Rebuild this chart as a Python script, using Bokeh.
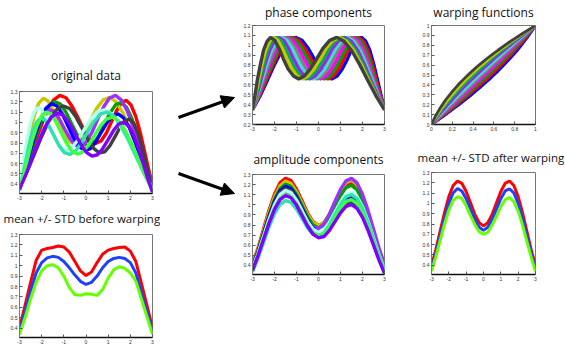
from bokeh.plotting import figure
from bokeh.layouts import row, column
from bokeh.models import (Range1d, FixedTicker, CustomJSTickFormatter,
                          Arrow, NormalHead, Spacer)
from bokeh.embed import file_html
from bokeh.resources import INLINE
import numpy as np

# ---------------- data ----------------
T_GRID = [-3.0, -2.75, -2.5, -2.25, -2.0, -1.75, -1.5, -1.25, -1.0, -0.75, -0.5, -0.25, 0.0,
          0.25, 0.5, 0.75, 1.0, 1.25, 1.5, 1.75, 2.0, 2.25, 2.5, 2.75, 3.0]

# warped time grids (one per function)
W0 = [-3, -2.89, -2.78, -2.64, -2.5, -2.34, -2.18, -1.99, -1.8, -1.59, -1.38, -1.14, -0.9, -0.64, -0.38, -0.09, 0.2, 0.51, 0.83, 1.16, 1.5, 1.86, 2.23, 2.61, 3]
W1 = [-3, -2.87, -2.72, -2.57, -2.41, -2.23, -2.05, -1.85, -1.65, -1.43, -1.21, -0.98, -0.73, -0.48, -0.21, 0.07, 0.35, 0.65, 0.95, 1.27, 1.59, 1.93, 2.28, 2.63, 3]
W2 = [-3, -2.84, -2.67, -2.5, -2.32, -2.13, -1.93, -1.72, -1.51, -1.28, -1.05, -0.82, -0.57, -0.32, -0.05, 0.22, 0.49, 0.78, 1.07, 1.37, 1.68, 2.0, 2.33, 2.66, 3]
W3 = [-3, -2.81, -2.62, -2.43, -2.22, -2.01, -1.8, -1.58, -1.36, -1.13, -0.89, -0.65, -0.4, -0.15, 0.11, 0.38, 0.64, 0.92, 1.2, 1.49, 1.78, 2.08, 2.38, 2.69, 3]
W4 = [-3, -2.79, -2.57, -2.35, -2.13, -1.9, -1.67, -1.44, -1.2, -0.97, -0.72, -0.48, -0.23, 0.02, 0.28, 0.53, 0.8, 1.06, 1.33, 1.6, 1.87, 2.15, 2.43, 2.71, 3]
W5 = [-3, -2.76, -2.52, -2.28, -2.04, -1.8, -1.55, -1.31, -1.06, -0.82, -0.57, -0.32, -0.07, 0.18, 0.43, 0.68, 0.94, 1.19, 1.45, 1.7, 1.96, 2.22, 2.48, 2.74, 3]
W6 = [-3, -2.73, -2.47, -2.21, -1.94, -1.68, -1.43, -1.17, -0.91, -0.66, -0.4, -0.15, 0.1, 0.35, 0.6, 0.84, 1.09, 1.33, 1.58, 1.82, 2.06, 2.29, 2.53, 2.77, 3]
W7 = [-3, -2.71, -2.42, -2.13, -1.85, -1.57, -1.3, -1.03, -0.76, -0.5, -0.24, 0.02, 0.27, 0.52, 0.76, 1.0, 1.24, 1.47, 1.7, 1.93, 2.15, 2.37, 2.58, 2.79, 3]
W8 = [-3, -2.68, -2.37, -2.06, -1.76, -1.47, -1.18, -0.9, -0.62, -0.35, -0.08, 0.18, 0.43, 0.68, 0.92, 1.15, 1.38, 1.61, 1.82, 2.03, 2.24, 2.44, 2.63, 2.82, 3]
W9 = [-3, -2.65, -2.32, -1.99, -1.67, -1.35, -1.05, -0.75, -0.47, -0.19, 0.08, 0.35, 0.6, 0.85, 1.08, 1.31, 1.53, 1.75, 1.95, 2.15, 2.33, 2.51, 2.68, 2.85, 3]
WARPS = [W0, W1, W2, W3, W4, W5, W6, W7, W8, W9]
WARP_COLORS = ["#404040", "#c8c800", "#00b050", "#a020f0", "#40e0d0",
               "#808080", "#ff00ff", "#00a000", "#ff0000", "#0000ff"]

# template of the phase components
PHASE_Y = [0.35, 0.49, 0.65, 0.81, 0.95, 1.04, 1.08, 1.05, 0.97, 0.86, 0.76, 0.69, 0.66,
           0.69, 0.76, 0.86, 0.97, 1.05, 1.08, 1.04, 0.95, 0.81, 0.65, 0.49, 0.35]

# amplitude components
A1 = [0.406, 0.573, 0.759, 0.945, 1.105, 1.217, 1.263, 1.239, 1.155, 1.040, 0.921, 0.832, 0.796, 0.820, 0.897, 1.006, 1.113, 1.192, 1.214, 1.169, 1.061, 0.907, 0.728, 0.550, 0.390]
A2 = [0.397, 0.559, 0.741, 0.922, 1.078, 1.188, 1.234, 1.210, 1.130, 1.019, 0.907, 0.825, 0.796, 0.827, 0.912, 1.027, 1.139, 1.220, 1.243, 1.198, 1.087, 0.930, 0.747, 0.563, 0.400]
A3 = [0.387, 0.545, 0.722, 0.899, 1.052, 1.159, 1.203, 1.180, 1.102, 0.992, 0.881, 0.800, 0.770, 0.797, 0.877, 0.986, 1.093, 1.170, 1.193, 1.149, 1.043, 0.892, 0.716, 0.540, 0.384]
A4 = [0.361, 0.508, 0.674, 0.839, 0.982, 1.082, 1.124, 1.105, 1.034, 0.938, 0.843, 0.778, 0.767, 0.813, 0.909, 1.033, 1.152, 1.237, 1.262, 1.217, 1.105, 0.945, 0.759, 0.573, 0.406]
A5 = [0.380, 0.536, 0.710, 0.884, 1.034, 1.139, 1.182, 1.159, 1.079, 0.969, 0.854, 0.767, 0.728, 0.743, 0.807, 0.902, 0.995, 1.064, 1.083, 1.043, 0.946, 0.809, 0.649, 0.490, 0.348]
A6 = [0.374, 0.527, 0.698, 0.869, 1.016, 1.119, 1.161, 1.137, 1.059, 0.950, 0.836, 0.747, 0.705, 0.715, 0.774, 0.862, 0.951, 1.014, 1.033, 0.994, 0.902, 0.771, 0.619, 0.467, 0.332]
A7 = [0.367, 0.518, 0.686, 0.854, 0.999, 1.101, 1.142, 1.121, 1.046, 0.942, 0.836, 0.758, 0.728, 0.752, 0.827, 0.928, 1.029, 1.102, 1.122, 1.082, 0.981, 0.839, 0.674, 0.508, 0.361]
A8 = [0.335, 0.472, 0.625, 0.779, 0.910, 1.003, 1.042, 1.023, 0.956, 0.865, 0.772, 0.707, 0.689, 0.721, 0.801, 0.905, 1.006, 1.080, 1.101, 1.061, 0.963, 0.824, 0.662, 0.499, 0.354]
A9 = [0.354, 0.499, 0.662, 0.824, 0.963, 1.061, 1.101, 1.080, 1.007, 0.906, 0.802, 0.724, 0.692, 0.711, 0.778, 0.872, 0.965, 1.033, 1.052, 1.013, 0.919, 0.786, 0.631, 0.476, 0.338]
A10 = [0.351, 0.495, 0.656, 0.816, 0.955, 1.052, 1.091, 1.070, 0.997, 0.894, 0.790, 0.709, 0.673, 0.686, 0.747, 0.833, 0.921, 0.984, 1.002, 0.964, 0.875, 0.748, 0.601, 0.453, 0.322]
AMPS = [A1, A2, A3, A4, A5, A6, A7, A8, A9, A10]
AMP_COLORS = ["#ff0000", "#c8c800", "#00a000", "#9b30ff", "#0000ff",
              "#404040", "#b0fff0", "#30e0b0", "#40ff40", "#8000ff"]
# which warped grid each original function uses
ORIG_WARP = [8, 2, 6, 4, 5, 9, 0, 1, 3, 7]

BEFORE_UPPER = [0.40, 0.62, 0.84, 1.05, 1.15, 1.165, 1.175, 1.19, 1.18, 1.13, 1.04, 0.95, 0.905,
                0.94, 1.03, 1.11, 1.15, 1.165, 1.175, 1.18, 1.14, 1.04, 0.83, 0.62, 0.40]
BEFORE_MEAN = [0.37, 0.56, 0.76, 0.93, 1.03, 1.075, 1.09, 1.08, 1.04, 0.98, 0.91, 0.85, 0.82,
               0.84, 0.90, 0.98, 1.04, 1.07, 1.08, 1.07, 1.03, 0.93, 0.74, 0.555, 0.37]
BEFORE_LOWER = [0.34, 0.50, 0.68, 0.84, 0.95, 1.00, 1.01, 0.98, 0.90, 0.79, 0.72, 0.715, 0.73,
                0.725, 0.715, 0.77, 0.88, 0.96, 0.99, 0.975, 0.93, 0.85, 0.68, 0.51, 0.34]
AFTER_UPPER = [0.392, 0.552, 0.731, 0.911, 1.066, 1.174, 1.218, 1.195, 1.116, 1.005, 0.894, 0.812, 0.782,
               0.812, 0.894, 1.005, 1.116, 1.195, 1.218, 1.174, 1.066, 0.911, 0.731, 0.552, 0.392]
AFTER_MEAN = [0.367, 0.518, 0.686, 0.854, 1.000, 1.101, 1.145, 1.121, 1.046, 0.945, 0.845, 0.768, 0.740,
              0.768, 0.845, 0.945, 1.046, 1.121, 1.142, 1.101, 1.000, 0.854, 0.686, 0.518, 0.367]
AFTER_LOWER = [0.343, 0.483, 0.640, 0.798, 0.934, 1.028, 1.067, 1.047, 0.977, 0.882, 0.795, 0.725, 0.700,
               0.720, 0.790, 0.875, 0.968, 1.037, 1.057, 1.018, 0.925, 0.790, 0.634, 0.478, 0.340]
BAND_COLORS = ["#ff0000", "#2040ff", "#66ff00"]

X_TICKS = [-3, -2, -1, 0, 1, 2, 3]
Y_TICKS = [0.4, 0.5, 0.6, 0.7, 0.8, 0.9, 1.0, 1.1, 1.2, 1.3]
PHASE_Y_TICKS = [0.2, 0.3, 0.4, 0.5, 0.6, 0.7, 0.8, 0.9, 1.0, 1.1, 1.2]
WARP_X_TICKS = [0, 0.2, 0.4, 0.6, 0.8, 1.0]
WARP_Y_TICKS = [0, 0.1, 0.2, 0.3, 0.4, 0.5, 0.6, 0.7, 0.8, 0.9, 1.0]

# ---------------- helpers ----------------
FMT_CODE = "return (Math.round(tick*10)/10).toString();"


def panel(title, xr, yr, xt, yt, w, h, l, r, t, b, standoff=0, title_size="12px",
          align="center", title_offset=0):
    p = figure(width=w, height=h, x_range=Range1d(*xr), y_range=Range1d(*yr),
               output_backend="svg", toolbar_location=None, title=title,
               min_border_left=l, min_border_right=r, min_border_top=t, min_border_bottom=b)
    p.title.text_font = "Open Sans"
    p.title.text_font_size = title_size
    p.title.text_font_style = "normal"
    p.title.align = align
    p.title.vertical_align = "top"
    p.title.text_color = "#111111"
    p.title.standoff = standoff
    p.title.offset = title_offset
    p.grid.visible = False
    p.outline_line_color = "#777777"
    p.outline_line_width = 1
    for ax, ticks in ((p.xaxis[0], xt), (p.yaxis[0], yt)):
        ax.ticker = FixedTicker(ticks=ticks)
        ax.formatter = CustomJSTickFormatter(code=FMT_CODE)
        ax.major_label_text_font_size = "5px"
        ax.major_label_text_font = "Liberation Sans"
        ax.major_label_text_color = "#333333"
        ax.major_label_standoff = 2
        ax.major_tick_in = 3
        ax.major_tick_out = 0
        ax.major_tick_line_color = "#555555"
        ax.minor_tick_line_color = None
    p.xaxis[0].axis_line_color = "#111111"
    p.xaxis[0].axis_line_width = 1.5
    p.yaxis[0].axis_line_color = "#777777"
    return p


# ---------------- panels ----------------
p_orig = panel("original data", (-3, 3), (0.31, 1.3), X_TICKS, Y_TICKS,
               160, 143, 19, 8, 29, 10, standoff=12)
for amp, col, wi in zip(AMPS, AMP_COLORS, ORIG_WARP):
    p_orig.line(WARPS[wi], amp, line_color=col, line_width=3.4)

p_before = panel("mean +/- STD before warping", (-3, 3), (0.31, 1.3), X_TICKS, Y_TICKS,
                 160, 143, 19, 8, 30, 8, standoff=14, title_size="11.5px",
                 align="left", title_offset=-16)
for ys, col in zip((BEFORE_UPPER, BEFORE_MEAN, BEFORE_LOWER), BAND_COLORS):
    p_before.line(T_GRID, ys, line_color=col, line_width=3)

p_phase = panel("phase components", (-3, 3), (0.2, 1.2), X_TICKS, PHASE_Y_TICKS,
                155, 133, 12, 11, 22, 8, standoff=6)
for wx, col in list(zip(WARPS, WARP_COLORS))[::-1]:
    p_phase.line(wx, PHASE_Y, line_color=col, line_width=3.4)

p_amp = panel("amplitude components", (-3, 3), (0.31, 1.3), X_TICKS, Y_TICKS,
              155, 138, 12, 11, 26, 8, standoff=10)
for amp, col in zip(AMPS, AMP_COLORS):
    p_amp.line(T_GRID, amp, line_color=col, line_width=3.4)

p_warp = panel("warping functions", (0, 1), (0, 1), WARP_X_TICKS, WARP_Y_TICKS,
               170, 133, 36, 30, 22, 8, standoff=6)
t_unit = (np.array(T_GRID) + 3.0) / 6.0
for wx, col in list(zip(WARPS, WARP_COLORS))[::-1]:
    p_warp.line((np.array(wx) + 3.0) / 6.0, t_unit, line_color=col, line_width=2.8)

p_after = panel("mean +/- STD after warping", (-3, 3), (0.31, 1.3), X_TICKS, Y_TICKS,
                170, 140, 24, 13, 28, 8, standoff=12, title_size="11.5px",
                align="left", title_offset=-14)
for ys, col in zip((AFTER_UPPER, AFTER_MEAN, AFTER_LOWER), BAND_COLORS):
    p_after.line(T_GRID, ys, line_color=col, line_width=3)

# ---------------- arrows ----------------
p_arr = figure(width=80, height=346, x_range=Range1d(0, 80), y_range=Range1d(346, 0),
               output_backend="svg", toolbar_location=None, x_axis_type=None, y_axis_type=None,
               min_border=0)
p_arr.grid.visible = False
p_arr.outline_line_color = None
for xs, ys, xe, ye in ((18, 117, 74, 97), (18, 173, 74, 193)):
    p_arr.add_layout(Arrow(end=NormalHead(size=13, fill_color="black", line_color="black"),
                           x_start=xs, y_start=ys, x_end=xe, y_end=ye,
                           line_width=3, line_color="black"))

col_a = column(Spacer(width=160, height=60), p_orig, p_before)
col_c = column(p_phase, Spacer(width=155, height=12), p_amp)
col_d = column(p_warp, Spacer(width=170, height=10), p_after)
layout = row(col_a, p_arr, col_c, col_d)

open("out.html", "w").write(file_html(layout, INLINE))
